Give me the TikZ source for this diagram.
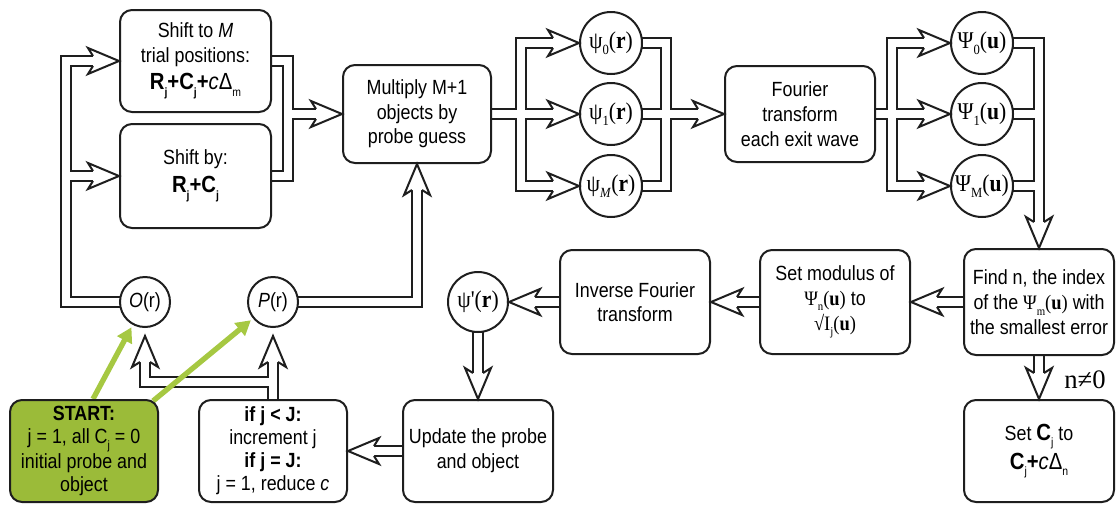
\documentclass[tikz,border=0pt]{standalone}
\usepackage{fontspec}
\setmainfont{Liberation Sans}[FakeStretch=0.87]
\newfontfamily\serifgr{Liberation Serif}[FakeStretch=0.9]
\newfontfamily\serifplain{Liberation Serif}
\usetikzlibrary{backgrounds,calc,arrows.meta}
\newcommand\sbx[1]{\raisebox{-0.6ex}{\fontsize{9}{9}\selectfont #1}}
\newcommand\sbc[1]{\raisebox{-0.55ex}{\fontsize{10.5}{10}\selectfont #1}}
\newcommand\bigf{\fontsize{17.5}{20}\selectfont}
\definecolor{startgreen}{RGB}{155,187,57}
\definecolor{arrgreen}{RGB}{166,200,66}
\definecolor{ink}{RGB}{30,30,30}
\tikzset{
  box/.style={draw=ink, line width=1.5pt, rounded corners=9pt, fill=white, inner sep=0pt,
    align=center, font=\fontsize{15.4}{18.5}\selectfont},
  bx/.style 2 args={box, minimum width=#1, minimum height=#2},
  circ/.style={draw=ink, line width=1.5pt, circle, fill=white, inner sep=0pt,
    minimum size=46.5pt, font=\fontsize{18}{20}\selectfont},
  smallcirc/.style={circ, minimum size=37.5pt, font=\fontsize{15.4}{17}\selectfont},
  pipeblack/.style={draw=ink, line width=9pt, line join=miter},
  pipewhite/.style={draw=white, line width=6pt, line join=miter},
  head/.style={shorten >=19pt},
  greenarrow/.style={draw=arrgreen, line width=4pt, -{Triangle[length=11pt,width=12pt]}, shorten >=2pt},
  ahead/.pic={
    \fill[white] (0,0) -- (-31,13) -- (-26,5) -- (-26,-5) -- (-31,-13) -- cycle;
    \draw[ink, line width=1.5pt, line join=miter, miter limit=10]
      (-26,5) -- (-31,13) -- (0,0) -- (-31,-13) -- (-26,-5);
  }
}
\newcommand\allpipes[1]{%
  \draw[#1,head] (Or.center) -- (66,302) -- (66,61) -- (shiftM.west);
  \draw[#1,head] (66,176) -- (shiftBy.west);
  \draw[#1,head] (shiftM.center) -- (288,61) -- (288,114) -- (multiply.west);
  \draw[#1] (shiftBy.center) -- (288,176) -- (288,114);
  \draw[#1,head] (Pr.center) -- (Pr.center -| multiply.south) -- (multiply.south);
  \draw[#1,head] (multiply.center) -- (psi1.west);
  \draw[#1,head] (521,114) -- (521,43) -- (psi0.west);
  \draw[#1,head] (521,114) -- (521,186) -- (psiM.west);
  \draw[#1] (psi0.center) -- (666,43) -- (666,186) -- (psiM.center);
  \draw[#1,head] (psi1.center) -- (fourier.west);
  \draw[#1,head] (fourier.center) -- (Psi1.west);
  \draw[#1,head] (892,114) -- (892,43) -- (Psi0.west);
  \draw[#1,head] (892,114) -- (892,186) -- (PsiM.west);
  \draw[#1,head] (Psi0.center) -- (Psi0.center -| findn.north) -- (findn.north);
  \draw[#1] (Psi1.center) -- (Psi1.center -| findn.north);
  \draw[#1] (PsiM.center) -- (PsiM.center -| findn.north);
  \draw[#1,head] (findn.center) -- (setmod.east);
  \draw[#1,head] (setmod.center) -- (inverse.east);
  \draw[#1,head] (inverse.center) -- (psip.east);
  \draw[#1,head] (psip.center) -- (update.north);
  \draw[#1,head] (update.center) -- (ifj.east);
  \draw[#1,head] (ifj.center) -- (prtip);
  \draw[#1,head] (273,382) -- (145,382) -- (ortip);
  \draw[#1,head] (findn.center) -- (setC.north);
}
\begin{document}
\begin{tikzpicture}[x=0.75pt, y=-0.75pt]
\useasboundingbox (0,0) rectangle (1116,504);
% boxes
\node[bx={113.25pt}{76.5pt}] (shiftM) at (195.5,61)
  {Shift to \textit{M}\\trial positions:\\[2pt]{\bigf\bfseries R\sbx{j}+C\sbx{j}+}{\bigf\itshape c}{\bigf Δ}\sbx{m}};
\node[bx={113.25pt}{78pt}] (shiftBy) at (195.5,176)
  {Shift by:\\[2pt]{\bigf\bfseries R\sbx{j}+C\sbx{j}}};
\node[bx={111pt}{73.5pt}] (multiply) at (417,114) {Multiply M+1\\objects by\\probe guess};
\node[bx={112.5pt}{72pt}] (fourier) at (800,114) {Fourier\\transform\\each exit wave};
\node[bx={112.5pt}{79.5pt}] (findn) at (1039,302)
  {Find n, the index\\of the {\serifgr Ψ\sbx{m}(\textbf{u})} with\\the smallest error};
\node[bx={112.5pt}{76.5pt}] (setC) at (1039,451)
  {Set {\bigf\bfseries C}\sbx{j} to\\[2pt]{\bigf\bfseries C}\sbx{j}{\bigf\bfseries +}{\bigf\itshape c}{\bigf Δ}\sbx{n}};
\node[bx={112.5pt}{78pt}] (setmod) at (835,302)
  {Set modulus of\\{\serifgr Ψ\sbx{n}(\textbf{u})} to\\{\serifgr √I\sbx{j}(\textbf{u})}};
\node[bx={112.5pt}{78pt}] (inverse) at (635,302) {Inverse Fourier\\transform};
\node[bx={112.5pt}{76.5pt}] (update) at (478,451) {Update the probe\\and object};
\node[bx={111pt}{76.5pt}, font=\fontsize{15.4}{17.2}\selectfont] (ifj) at (273,451)
  {\textbf{if j < J:}\\increment j\\\textbf{if j = J:}\\j = 1, reduce \textit{c}};
\node[bx={111pt}{76.5pt}, fill=startgreen, font=\fontsize{15.4}{17.2}\selectfont] (start) at (84,451)
  {\textbf{START:}\\j = 1, all C\sbx{j} = 0\\initial probe and\\object};
% circles
\node[circ] (psi0) at (611,43) {\serifgr ψ\sbc{0}(\textbf{r})};
\node[circ] (psi1) at (611,114) {\serifgr ψ\sbc{1}(\textbf{r})};
\node[circ] (psiM) at (611,186) {\serifgr ψ\sbc{\textit{M}}(\textbf{r})};
\node[circ] (Psi0) at (982,43) {\serifgr Ψ\sbc{0}(\textbf{u})};
\node[circ] (Psi1) at (982,114) {\serifgr Ψ\sbc{1}(\textbf{u})};
\node[circ] (PsiM) at (982,186) {\serifgr Ψ\sbc{M}(\textbf{u})};
\node[circ, minimum size=45pt] (psip) at (478,302) {\serifgr ψ'(\textbf{r})};
\node[smallcirc] (Or) at (145,302) {\textit{O}(r)};
\node[smallcirc] (Pr) at (273,302) {\textit{P}(r)};
\coordinate (prtip) at ($(Pr.south)+(0,8)$);
\coordinate (ortip) at ($(Or.south)+(0,8)$);
\node[font=\serifplain\fontsize{20}{22}\selectfont, anchor=west, inner sep=0pt] (nlabel) at (1064,380) {n≠0};
% pipes
\begin{pgfonlayer}{background}
  \allpipes{pipeblack}
  \allpipes{pipewhite}
  \draw[greenarrow] ($(start.north)+(9,0)$) -- (Or);
  \draw[greenarrow] ($(start.north east)+(-6,2)$) -- (Pr);
\end{pgfonlayer}
% arrow heads
\pic at (shiftM.west) {ahead};
\pic at (shiftBy.west) {ahead};
\pic at (multiply.west) {ahead};
\pic[rotate=90] at (multiply.south) {ahead};
\pic at (psi0.west) {ahead};
\pic at (psi1.west) {ahead};
\pic at (psiM.west) {ahead};
\pic at (fourier.west) {ahead};
\pic at (Psi0.west) {ahead};
\pic at (Psi1.west) {ahead};
\pic at (PsiM.west) {ahead};
\pic[rotate=-90] at (findn.north) {ahead};
\pic[rotate=180] at (setmod.east) {ahead};
\pic[rotate=180] at (inverse.east) {ahead};
\pic[rotate=180] at (psip.east) {ahead};
\pic[rotate=-90] at (update.north) {ahead};
\pic[rotate=180] at (ifj.east) {ahead};
\pic[rotate=90] at (prtip) {ahead};
\pic[rotate=90] at (ortip) {ahead};
\pic[rotate=-90] at (setC.north) {ahead};
\end{tikzpicture}
\end{document}
